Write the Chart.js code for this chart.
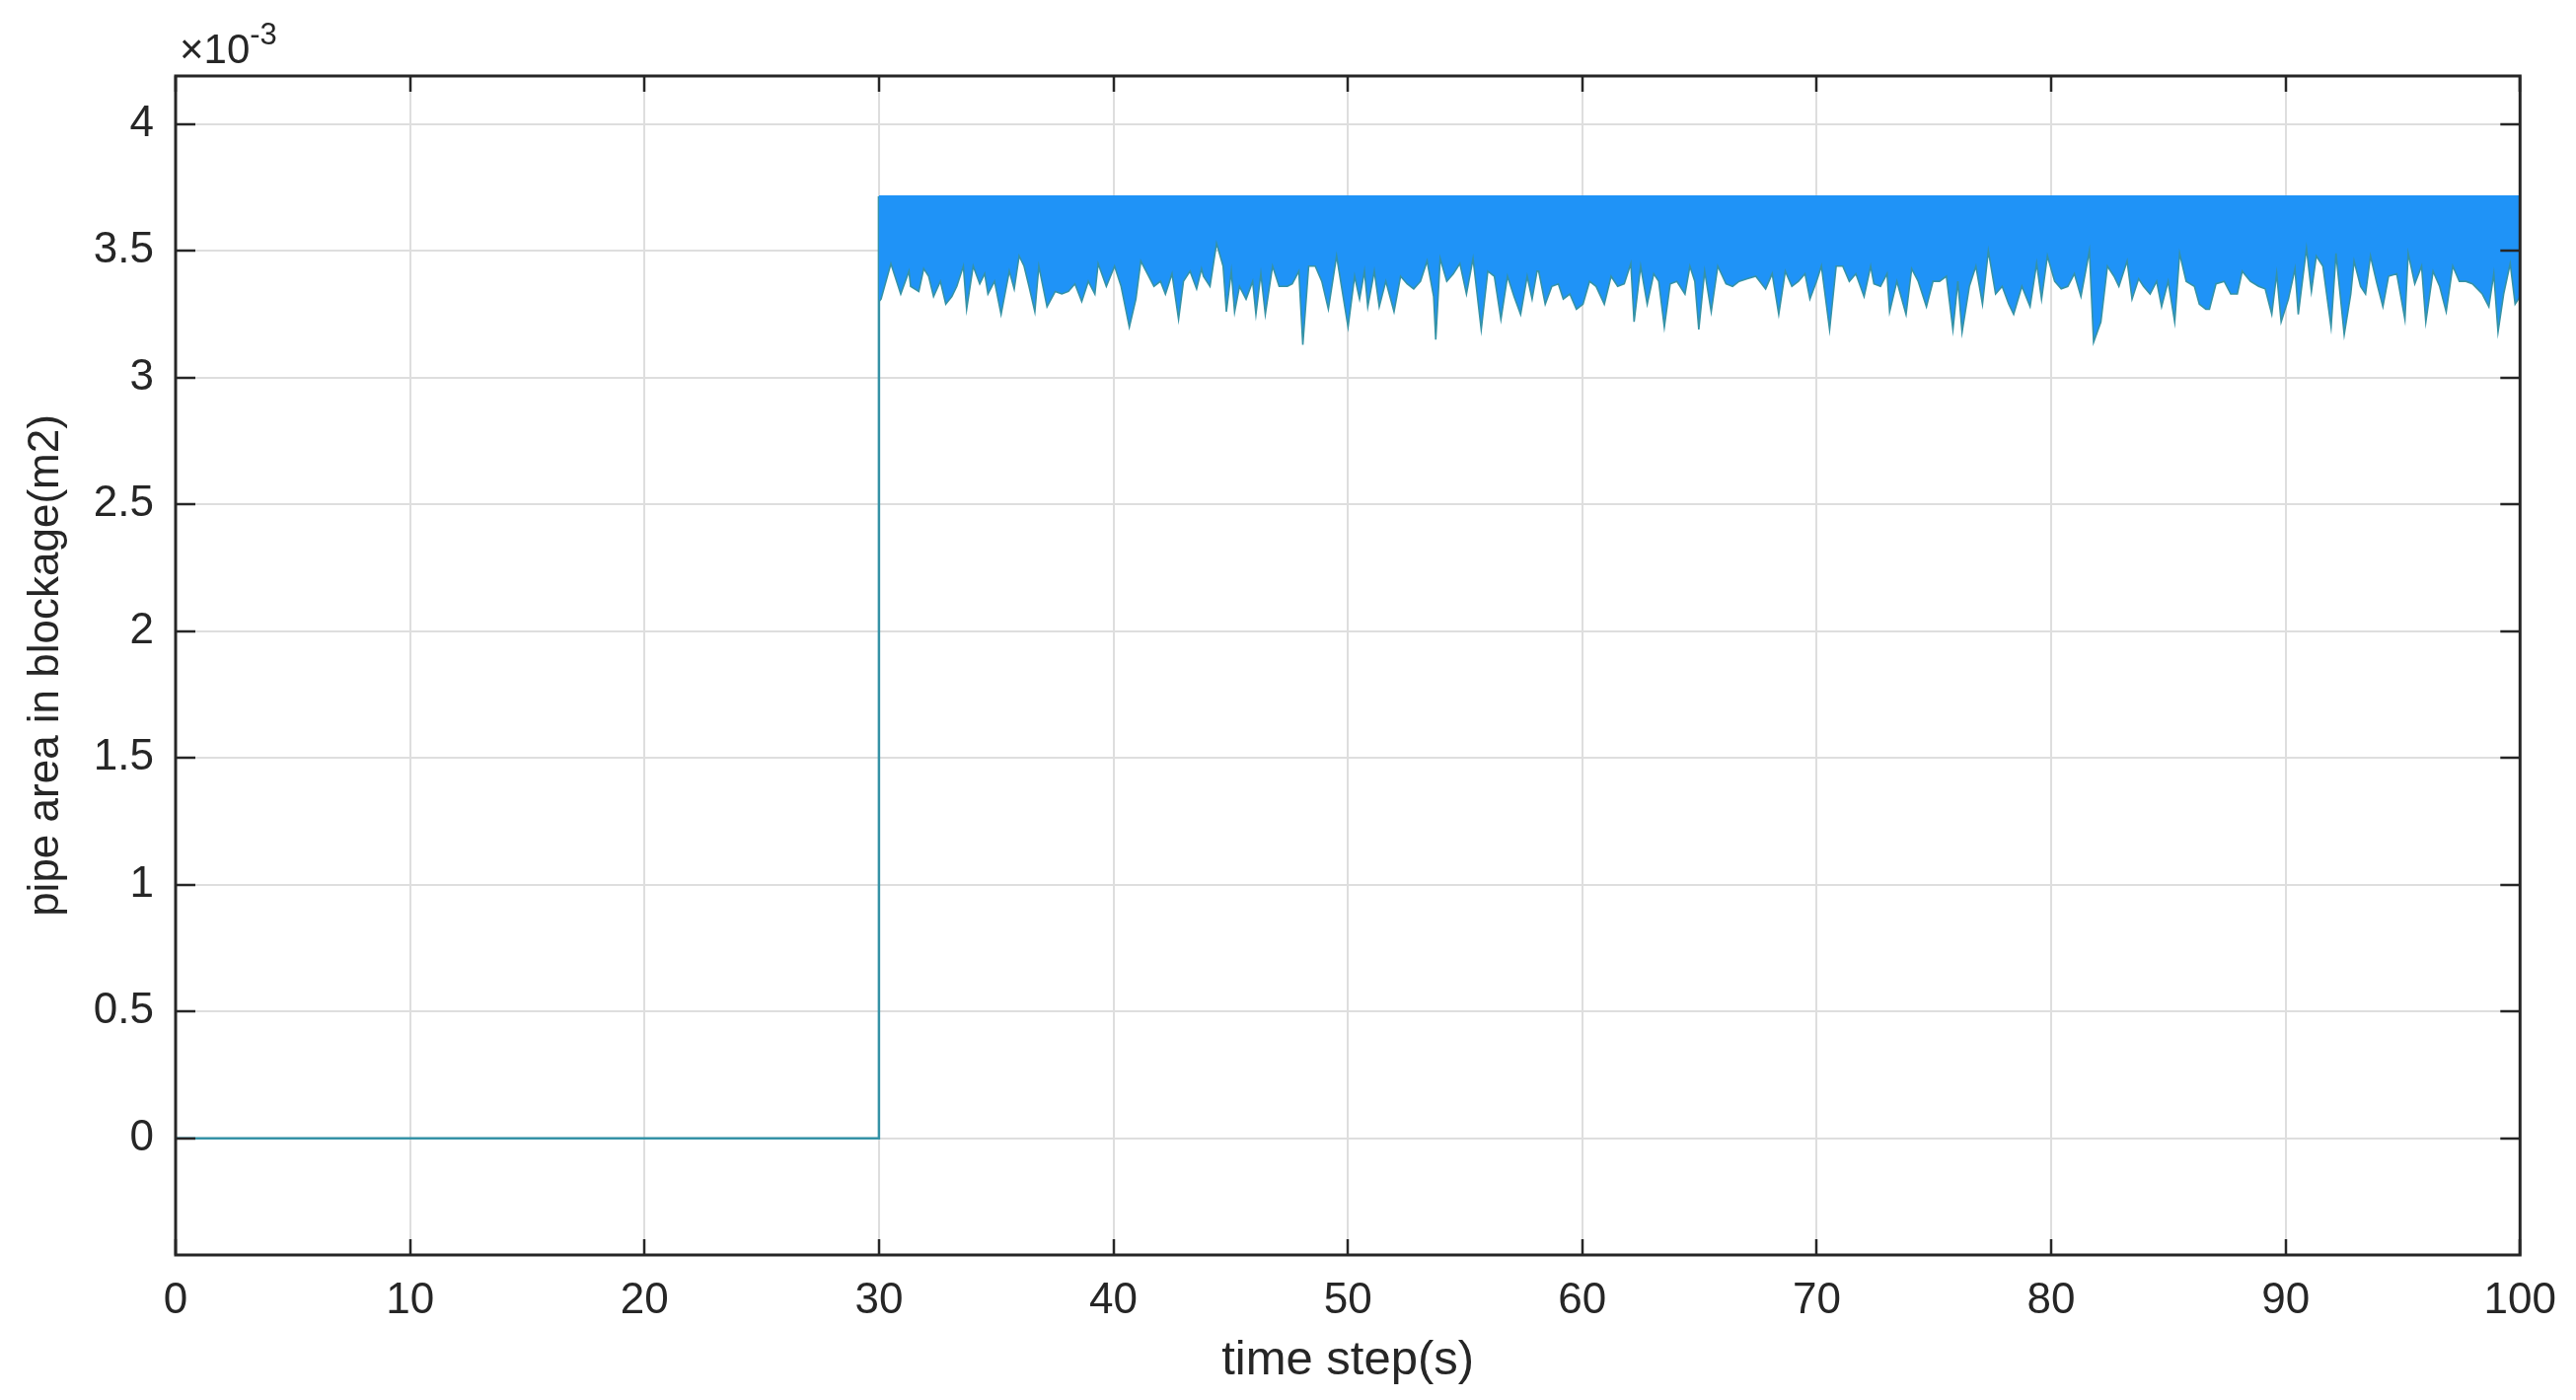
<!DOCTYPE html>
<html>
<head>
<meta charset="utf-8">
<script src="https://cdn.jsdelivr.net/npm/chart.js@4.4.1/dist/chart.umd.min.js"></script>
<style>
  html, body { margin: 0; padding: 0; background: #ffffff; }
  #wrap { width: 2611px; height: 1419px; }
</style>
</head>
<body>
<div id="wrap"><canvas id="c" width="2611" height="1419"></canvas></div>
<script>
// ---------------- data (values in units of 10^-3 m^2) ----------------
const X_TICKS = [0, 10, 20, 30, 40, 50, 60, 70, 80, 90, 100];
const Y_TICKS = [0, 0.5, 1, 1.5, 2, 2.5, 3, 3.5, 4];
const X_LIMITS = [0, 100];
const Y_LIMITS = [-0.46, 4.19];

// before the blockage: zero until t = 30 s, then jump
const preT = [0, 30, 30];
const preV = [0, 0, 3.715];

// upper edge of the fluctuating band
const upperT = [30, 100];
const upperV = [3.715, 3.715];

// lower edge of the fluctuating band
const lowerT = [
  30.00,30.09,30.51,30.93,31.28,31.35,31.70,31.91,32.12,32.33,32.62,32.85,33.11,33.32,33.60,33.74,34.02,34.30,34.51,34.65,
  34.93,35.21,35.56,35.77,35.98,36.19,36.40,36.65,36.82,37.17,37.52,37.80,38.08,38.36,38.65,38.93,39.21,39.35,39.70,40.05,
  40.33,40.68,40.96,41.17,41.45,41.73,42.01,42.22,42.50,42.78,42.99,43.27,43.55,43.76,
  43.84,44.12,44.40,44.68,44.82,45.03,45.17,45.38,45.66,45.94,46.08,46.29,46.48,46.79,47.07,47.42,47.63,47.91,48.08,48.33,
  48.61,48.89,49.17,49.52,49.73,50.01,50.29,50.50,50.71,50.85,51.13,51.34,51.62,51.97,52.25,52.53,52.81,53.10,53.38,53.66,
  53.75,53.94,54.22,54.50,54.78,55.06,55.34,55.69,55.97,56.25,56.53,56.81,57.09,57.37,57.65,57.86,58.07,
  58.14,58.42,58.70,58.98,59.19,59.47,59.75,60.03,60.31,60.59,60.94,61.23,61.51,61.79,62.07,62.21,62.49,62.77,63.05,63.26,
  63.50,63.75,64.03,64.38,64.59,64.80,64.97,65.22,65.50,65.78,66.13,66.41,66.69,67.04,67.40,67.82,68.10,68.38,68.66,68.94,
  69.22,69.50,69.71,69.99,70.20,70.55,70.83,71.11,71.39,71.67,72.02,72.30,
  72.44,72.72,73.00,73.11,73.42,73.81,74.05,74.33,74.68,74.96,75.24,75.53,75.81,76.02,76.20,76.51,76.79,77.07,77.32,77.63,
  77.91,78.19,78.40,78.75,79.10,79.38,79.59,79.84,80.15,80.43,80.71,80.99,81.27,81.63,81.81,82.12,82.40,82.68,82.89,83.24,
  83.45,83.73,83.94,84.22,84.50,84.71,84.99,85.27,85.48,85.76,86.11,86.32,86.60,
  86.75,87.03,87.38,87.66,87.94,88.15,88.50,88.85,89.13,89.41,89.62,89.81,90.12,90.40,90.54,90.89,91.10,91.31,91.59,91.94,
  92.15,92.50,92.78,92.92,93.20,93.41,93.62,93.90,94.15,94.39,94.74,95.09,95.23,95.51,95.80,95.98,96.29,96.57,96.85,97.13,
  97.41,97.69,97.97,98.39,98.67,98.88,99.06,99.30,99.58,99.79,100.00
];
const lowerV = [
  3.30,3.31,3.45,3.33,3.42,3.36,3.34,3.43,3.40,3.32,3.38,3.29,3.32,3.36,3.44,3.27,3.44,3.37,3.41,3.33,
  3.38,3.25,3.42,3.35,3.48,3.44,3.36,3.26,3.44,3.28,3.34,3.33,3.34,3.37,3.30,3.38,3.33,3.45,3.36,3.44,
  3.36,3.20,3.31,3.46,3.41,3.36,3.38,3.33,3.41,3.23,3.38,3.42,3.35,3.43,
  3.40,3.36,3.53,3.44,3.26,3.42,3.26,3.36,3.31,3.38,3.25,3.41,3.25,3.44,3.36,3.36,3.37,3.42,3.13,3.44,
  3.44,3.38,3.27,3.48,3.36,3.20,3.40,3.31,3.42,3.28,3.42,3.28,3.38,3.26,3.40,3.37,3.35,3.38,3.46,3.32,
  3.15,3.47,3.38,3.41,3.45,3.33,3.47,3.19,3.42,3.40,3.23,3.40,3.32,3.25,3.40,3.31,3.42,
  3.42,3.29,3.36,3.37,3.31,3.33,3.27,3.29,3.38,3.36,3.29,3.40,3.36,3.37,3.45,3.22,3.44,3.29,3.41,3.38,
  3.20,3.37,3.38,3.33,3.44,3.38,3.19,3.42,3.26,3.44,3.37,3.36,3.38,3.39,3.40,3.35,3.41,3.25,3.42,3.36,
  3.38,3.41,3.31,3.38,3.44,3.19,3.44,3.44,3.38,3.41,3.32,3.44,
  3.37,3.36,3.41,3.26,3.38,3.25,3.43,3.38,3.28,3.38,3.38,3.40,3.19,3.38,3.18,3.36,3.44,3.29,3.50,3.33,
  3.36,3.29,3.25,3.36,3.28,3.45,3.31,3.48,3.38,3.35,3.36,3.41,3.32,3.50,3.14,3.22,3.44,3.40,3.36,3.46,
  3.31,3.39,3.36,3.33,3.38,3.28,3.38,3.22,3.49,3.38,3.36,3.29,3.27,
  3.27,3.37,3.38,3.33,3.33,3.42,3.38,3.36,3.35,3.25,3.41,3.22,3.31,3.43,3.25,3.51,3.34,3.48,3.44,3.20,
  3.49,3.17,3.33,3.46,3.36,3.33,3.48,3.37,3.28,3.40,3.41,3.23,3.49,3.37,3.44,3.22,3.42,3.36,3.26,3.44,
  3.38,3.38,3.37,3.33,3.28,3.41,3.18,3.33,3.45,3.29,3.32
];

const X_TITLE = 'time step(s)';
const Y_TITLE = 'pipe area in blockage(m2)';
const EXP_BASE = '\u00d710';
const EXP_POW = '-3';

// ---------------- styling ----------------
const FONT = "'Liberation Sans', Arial, Helvetica, sans-serif";
const TXT = '#262626';
const BAND_BLUE = '#1f93f7';
const THIN_LINE = '#3592a6';

function pts(ts, vs) {
  const n = Math.min(ts.length, vs.length);
  const out = [];
  for (let i = 0; i < n; i++) out.push({ x: ts[i], y: vs[i] });
  return out;
}

const matlabBox = {
  id: 'matlabBox',
  afterDraw(chart) {
    const { ctx, chartArea: a, scales } = chart;
    const xs = scales.x, ys = scales.y;
    ctx.save();
    ctx.strokeStyle = TXT;
    ctx.lineWidth = 2.5;
    ctx.beginPath();
    X_TICKS.forEach(v => {
      const px = Math.round(xs.getPixelForValue(v));
      ctx.moveTo(px, a.bottom); ctx.lineTo(px, a.bottom - 16);
      ctx.moveTo(px, a.top); ctx.lineTo(px, a.top + 16);
    });
    Y_TICKS.forEach(v => {
      const py = Math.round(ys.getPixelForValue(v));
      ctx.moveTo(a.left, py); ctx.lineTo(a.left + 20, py);
      ctx.moveTo(a.right, py); ctx.lineTo(a.right - 20, py);
    });
    ctx.stroke();
    ctx.lineWidth = 3;
    ctx.strokeRect(a.left, a.top, a.right - a.left, a.bottom - a.top);
    // exponent label
    ctx.fillStyle = TXT;
    ctx.textBaseline = 'alphabetic';
    ctx.textAlign = 'left';
    ctx.font = '42px ' + FONT;
    ctx.fillText(EXP_BASE, a.left + 4, a.top - 13);
    const w = ctx.measureText(EXP_BASE).width;
    ctx.font = '31px ' + FONT;
    ctx.fillText(EXP_POW, a.left + 4 + w, a.top - 32);
    ctx.restore();
  }
};

new Chart(document.getElementById('c'), {
  type: 'line',
  data: {
    datasets: [
      {
        data: pts(lowerT, lowerV),
        borderColor: THIN_LINE,
        borderWidth: 1.6,
        backgroundColor: BAND_BLUE,
        fill: { value: upperV[0] },
        pointRadius: 0,
        tension: 0
      },
      {
        data: pts(upperT, upperV),
        borderColor: BAND_BLUE,
        borderWidth: 2,
        fill: false,
        pointRadius: 0
      },
      {
        data: pts(preT, preV),
        borderColor: THIN_LINE,
        borderWidth: 2.5,
        fill: false,
        pointRadius: 0
      }
    ]
  },
  options: {
    responsive: false,
    animation: false,
    parsing: true,
    layout: { padding: { left: 0, top: 77, right: 56, bottom: 0 } },
    plugins: { legend: { display: false }, tooltip: { enabled: false } },
    scales: {
      x: {
        type: 'linear',
        min: X_LIMITS[0], max: X_LIMITS[1],
        afterBuildTicks(s) { s.ticks = X_TICKS.map(v => ({ value: v })); },
        afterFit(s) { s.height = 147; },
        grid: { color: '#dedede', lineWidth: 2, drawTicks: false },
        border: { display: false },
        ticks: { color: TXT, font: { family: FONT, size: 44 }, padding: 20, maxRotation: 0, autoSkip: false },
        title: { display: true, text: X_TITLE, color: TXT, font: { family: FONT, size: 49 }, padding: { top: 0, bottom: 10 } }
      },
      y: {
        type: 'linear',
        min: Y_LIMITS[0], max: Y_LIMITS[1],
        afterBuildTicks(s) { s.ticks = Y_TICKS.map(v => ({ value: v })); },
        afterFit(s) { s.width = 178; },
        grid: { color: '#dedede', lineWidth: 2, drawTicks: false },
        border: { display: false },
        ticks: { color: TXT, font: { family: FONT, size: 44 }, padding: 22, autoSkip: false,
                 callback: v => String(v) },
        title: { display: true, text: Y_TITLE, color: TXT, font: { family: FONT, size: 44 }, padding: { top: 20, bottom: 0 } }
      }
    }
  },
  plugins: [matlabBox]
});
</script>
</body>
</html>
